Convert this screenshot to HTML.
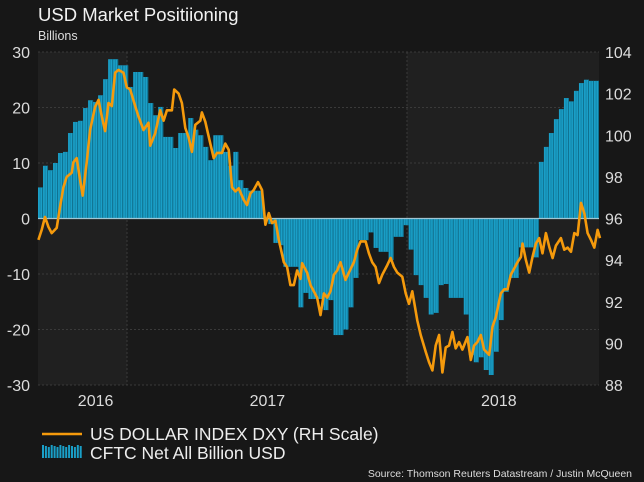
<!DOCTYPE html>
<html><head><meta charset="utf-8"><style>
body{margin:0;background:#171717;}
svg{display:block;font-family:"Liberation Sans",sans-serif;}
</style></head><body>
<svg id="chart" width="644" height="482" viewBox="0 0 644 482">
<rect width="644" height="482" fill="#171717"/>
<text x="38" y="21" fill="#f2f2f2" font-size="18.5">USD Market Positiioning</text>
<text x="38" y="40" fill="#dcdcdc" font-size="12.5">Billions</text>
<g id="plot"></g>
<g>
<line x1="42" y1="434" x2="82" y2="434" stroke="#f59a0c" stroke-width="2.5"/>
<text x="90" y="440" fill="#eeeeee" font-size="17.5">US DOLLAR INDEX DXY (RH Scale)</text>
<g id="legswatch"></g>
<text x="90" y="459" fill="#eeeeee" font-size="17.5">CFTC Net All Billion USD</text>
</g>
<text x="632" y="477" text-anchor="end" fill="#dddddd" font-size="10.5">Source: Thomson Reuters Datastream / Justin McQueen</text>
</svg>
<script>
const cftcValues=[5.6,9.5,8.7,10,11.8,12,15.4,17.4,17.6,19.9,21.3,21,22.2,25.1,28.7,28.7,27.6,27.6,23.7,26.4,26.4,25.5,20.8,18.6,20.1,14.7,14.7,12.7,15.4,15.4,18.1,16,15,12.9,10.5,15,15,12,9.5,12,6.9,5.5,5,5,5,-0.3,-1,-4.4,-4.8,-8.7,-8.7,-8.7,-16,-13.4,-14.5,-14.5,-14.5,-16.5,
-14.7,-21,-21,-20,-16,-10.7,-3.9,-3.9,-2.5,-5.3,-6,-6,-7.5,-3.3,-3.3,-1.2,-5.6,-10.2,-12,-14.3,-17.3,-17,-12,-11.8,-14.3,-14.3,-14.3,-17.3,-24.6,-25.9,-25,-27.3,-28.2,-24,-18.3,-13.2,-10.7,-10.7,-5.2,-5.2,-5.2,-7,10.2,12.9,15.4,17.9,19.7,21.7,21.1,23,24.4,25,24.8,24.8];
const dxyWeeks=[0.07,0.73,1.4,2.07,2.73,3.73,4.4,5.07,5.73,6.73,7.07,7.73,8.4,8.93,9.73,10.4,11.4,12.07,12.73,13.4,14.07,14.73,15.4,16.07,17.07,17.73,18.4,19.4,20.07,21.07,22.07,22.4,23.4,24.4,25.07,25.73,26.73,27.2,28.07,28.73,29.4,30.07,30.73,31.4,32.4,32.73,33.4,34.4,35.07,35.73,36.73,37.4,38.07,38.73,39.4,40.07,41.07,41.73,42.4,43.07,43.93,44.73,45.4,46.07,46.73,47.4,48.07,49.07,49.73,50.4,51.07,51.73,52.4,52.73,53.73,54.4,55.07,55.73,56.4,
57.07,57.73,58.4,59.07,59.73,60.4,61.4,62.07,63.07,63.73,64.4,65.4,66.07,66.73,67.4,68.07,68.73,69.73,70.4,71.07,71.73,72.73,73.4,74.07,74.73,75.73,76.4,77.4,78.07,78.73,79.4,80.07,80.73,81.4,82.07,82.73,83.4,84.07,84.73,85.73,86.4,87.07,87.73,88.4,89.07,90.07,90.73,91.4,92.4,93.07,93.73,94.4,95.07,95.73,96.4,96.73,97.4,98.07,98.73,99.4,100.07,100.73,101.4,102.07,102.73,103.4,104.4,105.07,105.73,106.4,107.07,107.73,108.4,109.07,109.73,110.4,111.07,111.73,112.2];
const dxyValues=[94.97,95.45,96.07,95.6,95.3,95.55,96.55,97.5,98,98.2,98.7,98.9,97.85,97.1,98.7,100.25,101.36,101.7,100.9,100.2,101.55,101.4,103,103.14,103,102.3,102.2,101.4,100.9,100.25,100.6,99.5,100.1,101.2,100.7,101.2,101.2,102.2,102,101.55,100.35,99.9,99.2,100.5,100.7,101.1,100.65,99.6,98.9,99.15,99.15,99.6,99.3,97.5,97.3,97.45,96.9,96.65,97.2,97.37,97.75,97.37,95.7,96.26,95.78,95.9,94.97,93.9,93.67,92.8,92.8,93.5,93.1,93.85,93.4,92.8,92.5,92.2,91.36,
92.4,92.2,92.5,93.3,93.5,93.9,93.05,93.4,93.9,94.5,94.9,94.9,94.33,93.9,93.67,92.9,93.3,93.76,94.1,93.67,93.4,93.2,92.4,91.9,92.5,91.1,90.4,89.6,89.1,88.7,89.9,90.4,88.6,89.8,89.9,90.55,89.76,90.06,89.7,90.3,89.2,89.9,90.06,90.4,89.7,89.45,90.8,91.26,92.4,92.6,92.6,93.3,93.6,93.9,94.15,94.8,94,93.4,94.15,94.8,95.06,94.33,95.3,94.63,94.1,94.7,95.06,94.5,94.6,94.4,95.3,95.2,96.75,96.26,95.3,94.97,94.6,95.45,95.06];
const leftTicks=[30,20,10,0,-10,-20,-30];
const rightTicks=[104,102,100,98,96,94,92,90,88];
const yearLabels=["2016","2017","2018"];
const yearLabelWeeks=[11.5,45.8,92];

const NS="http://www.w3.org/2000/svg";
const X0=38,X1=599,Y0=52,Y1=385;
const nW=cftcValues.length;
const xW=w=>X0+w*(X1-X0)/nW;
const yL=v=>Y0+(30-v)*(Y1-Y0)/60;
const yR=v=>Y0+(104-v)*(Y1-Y0)/16;
const plot=document.getElementById('plot');
function mk(tag,attrs,parent){const e=document.createElementNS(NS,tag);for(const k in attrs)e.setAttribute(k,attrs[k]);(parent||plot).appendChild(e);return e;}

let b=mk('rect',{x:X0,y:Y0,width:127-X0,height:Y1-Y0,fill:'#202020'});


b=mk('rect',{x:127,y:Y0,width:407-127,height:Y1-Y0,fill:'#1a1a1a'});


b=mk('rect',{x:407,y:Y0,width:X1-407,height:Y1-Y0,fill:'#202020'});



leftTicks.forEach(t=>{
  const g=mk('line',{x1:X0,x2:X1,y1:yL(t),y2:yL(t),stroke:'#3a3a3a','stroke-dasharray':'2,2'});
  
  
  const tx=mk('text',{x:30,y:yL(t)+6,'text-anchor':'end',fill:'#dcdcdc','font-size':'16'});
  tx.textContent=t;
  
  
});
[127,407].forEach(x=>{
  const g=mk('line',{x1:x,x2:x,y1:Y0,y2:Y1,stroke:'#3a3a3a','stroke-dasharray':'2,2'});
  
  
});
rightTicks.forEach(t=>{
  const tx=mk('text',{x:605,y:yR(t)+6,fill:'#dcdcdc','font-size':'16'});
  tx.textContent=t;
  
  
});
yearLabels.forEach((l,i)=>{
  const tx=mk('text',{x:xW(yearLabelWeeks[i]),y:406,'text-anchor':'middle',fill:'#dcdcdc','font-size':'16'});
  tx.textContent=l;
  
  
});

const bw=(X1-X0)/nW;
cftcValues.forEach((v,i)=>{
  const y=Math.min(yL(v),yL(0)),h=Math.abs(yL(v)-yL(0));
  const r=mk('rect',{x:xW(i),y:y,width:bw,height:h,fill:'#1a9fc7'});
  
  
  const s=mk('rect',{x:xW(i)+bw-1,y:y,width:1,height:h,fill:'#0f7190'});
  
  
  const m=mk('rect',{x:xW(i)+bw/2-0.8,y:y,width:0.8,height:h,fill:'#137fa2'});
  
  
});
const z=mk('line',{x1:X0,x2:X1,y1:yL(0),y2:yL(0),stroke:'#9fc6d4','stroke-width':1.2});



const pts=dxyValues.map((v,i)=>xW(dxyWeeks[i]).toFixed(1)+','+yR(v).toFixed(1)).join(' ');
const pl=mk('polyline',{points:pts,fill:'none',stroke:'#f59a0c','stroke-width':2.6,'stroke-linejoin':'round'});



const ls=document.getElementById('legswatch');
for(let i=0;i<14;i++){
  const r=mk('rect',{x:42+i*2.9,y:445+(i%3),width:2,height:13-(i%3),fill:'#1a9fc7'},ls);
  
  
}
</script>
</body></html>
